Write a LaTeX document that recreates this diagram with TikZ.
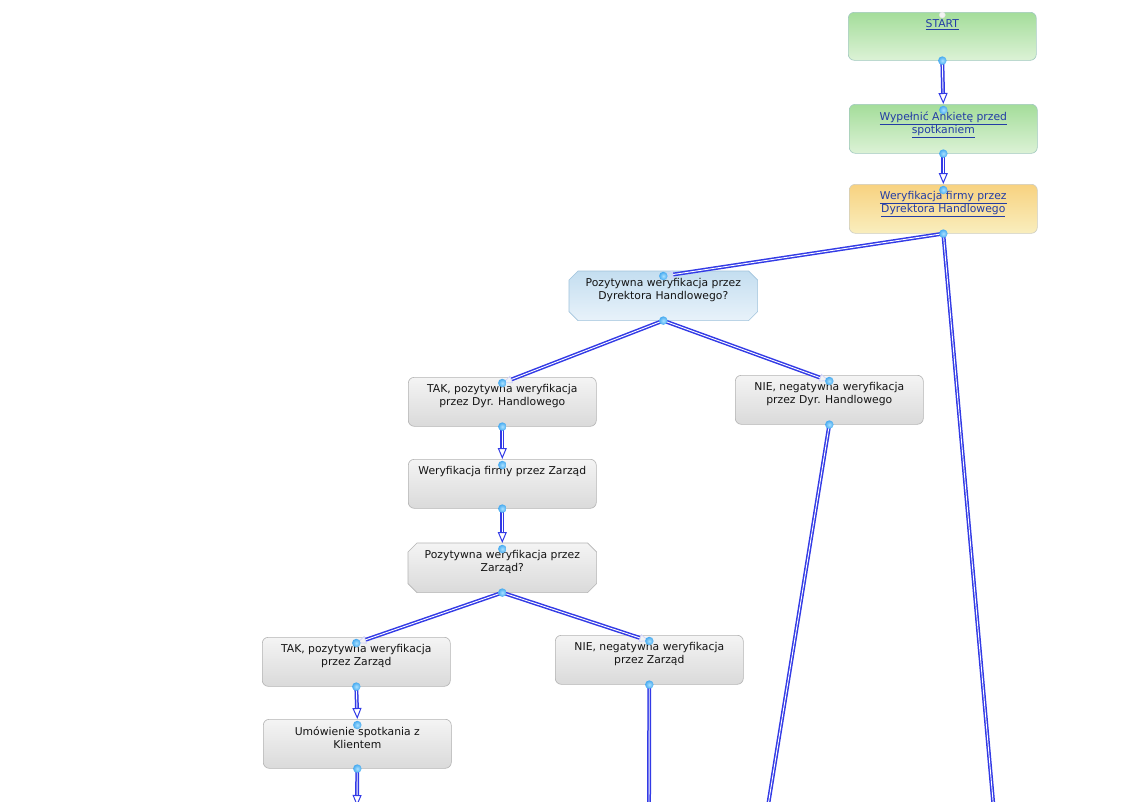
\documentclass[tikz,border=0pt]{standalone}
\usepackage{fontspec}
\setmainfont{DejaVu Sans}
\usetikzlibrary{arrows.meta}
\definecolor{lnk}{RGB}{50,58,230}
\definecolor{linktxt}{RGB}{35,60,165}
\definecolor{txt}{RGB}{20,20,20}
\definecolor{grtop}{RGB}{164,221,154}
\definecolor{grbot}{RGB}{220,242,214}
\definecolor{grbd}{RGB}{160,200,190}
\definecolor{ortop}{RGB}{248,210,128}
\definecolor{orbot}{RGB}{249,238,190}
\definecolor{orbd}{RGB}{205,205,195}
\definecolor{bltop}{RGB}{196,222,240}
\definecolor{blbot}{RGB}{232,242,250}
\definecolor{blbd}{RGB}{160,195,220}
\definecolor{gytop}{RGB}{244,244,244}
\definecolor{gybot}{RGB}{218,218,218}
\definecolor{gybd}{RGB}{180,180,180}
\definecolor{dotc}{RGB}{70,170,240}
\definecolor{dotl}{RGB}{170,225,255}
\newcommand{\lk}[1]{\underline{#1}}
\newcommand{\octa}[2]{%
  \path[#2] ([xshift=9pt]#1.north west) -- ([xshift=-9pt]#1.north east)
    -- ([yshift=-9pt]#1.north east) -- ([yshift=9pt]#1.south east)
    -- ([xshift=-9pt]#1.south east) -- ([xshift=9pt]#1.south west)
    -- ([yshift=9pt]#1.south west) -- ([yshift=-9pt]#1.north west) -- cycle;}
\tikzset{
  boxbase/.style={minimum width=188pt, minimum height=49pt, inner sep=0pt, anchor=north west, line width=0.6pt},
  greenbox/.style={boxbase, rounded corners=6pt, draw=grbd, top color=grtop, bottom color=grbot},
  orangebox/.style={boxbase, rounded corners=6pt, draw=orbd, top color=ortop, bottom color=orbot},
  graybox/.style={boxbase, rounded corners=6pt, draw=gybd, top color=gytop, bottom color=gybot},
  decbox/.style={boxbase},
  bluefill/.style={draw=blbd, line width=0.6pt, top color=bltop, bottom color=blbot},
  grayfill/.style={draw=gybd, line width=0.6pt, top color=gytop, bottom color=gybot},
  boxtext/.style={anchor=north, align=center, inner sep=0pt, font=\fontsize{10.8}{13}\selectfont, text=txt},
  linktext/.style={boxtext, text=linktxt},
  conn/.style={draw=lnk, line width=1.5pt, double=white, double distance=0.9pt},
  tipblue/.style={-{Triangle[open, length=11pt, width=9pt, line width=1pt]}},
  tippale/.style={-{Triangle[open, length=10pt, width=8pt, line width=0.8pt, color=lnk!22]}},
  dot/.style={circle, minimum size=8.5pt, inner sep=0pt, inner color=dotl, outer color=dotc},
}
\begin{document}
\begin{tikzpicture}[x=1pt, y=-1pt]
\useasboundingbox (0,0) rectangle (1143,801);
\fill[white] (0,0) rectangle (1143,801);

% boxes
\node[greenbox, minimum height=48pt] (start) at (848,12) {};
\node[greenbox] (wyp) at (849,104) {};
\node[orangebox] (wer) at (849,184) {};
\node[decbox] (pdh) at (569,271) {};
\octa{pdh}{bluefill}
\node[graybox] (takd) at (408,377) {};
\node[graybox] (nied) at (735,375) {};
\node[graybox] (wz) at (408,459) {};
\node[decbox] (pz) at (408,543) {};
\octa{pz}{grayfill}
\node[graybox] (takz) at (262,637) {};
\node[graybox] (niez) at (555,635) {};
\node[graybox] (umow) at (263,719) {};

% texts
\node[linktext] (t1) at ([yshift=-7.5pt]start.north) {\lk{START}};
\node[linktext] (t2) at ([yshift=-7.5pt]wyp.north) {\lk{Wypełnić Ankietę przed}\\\lk{spotkaniem}};
\node[linktext] (t3) at ([yshift=-7.5pt]wer.north) {\lk{Weryfikacja firmy przez}\\\lk{Dyrektora Handlowego}};
\node[boxtext] (t4) at ([yshift=-7.5pt]pdh.north) {Pozytywna weryfikacja przez\\Dyrektora Handlowego?};
\node[boxtext] (t5) at ([yshift=-7.5pt]takd.north) {TAK, pozytywna weryfikacja\\przez Dyr. Handlowego};
\node[boxtext] (t6) at ([yshift=-7.5pt]nied.north) {NIE, negatywna weryfikacja\\przez Dyr. Handlowego};
\node[boxtext] (t7) at ([yshift=-7.5pt]wz.north) {Weryfikacja firmy przez Zarząd};
\node[boxtext] (t8) at ([yshift=-7.5pt]pz.north) {Pozytywna weryfikacja przez\\Zarząd?};
\node[boxtext] (t9) at ([yshift=-7.5pt]takz.north) {TAK, pozytywna weryfikacja\\przez Zarząd};
\node[boxtext] (t10) at ([yshift=-7.5pt]niez.north) {NIE, negatywna weryfikacja\\przez Zarząd};
\node[boxtext] (t11) at ([yshift=-7.5pt]umow.north) {Umówienie spotkania z\\Klientem};

% off-page ends
\coordinate (endA) at (994,812);
\coordinate (endB) at (767,812);
\coordinate (endC) at (649,812);
\coordinate (endD) at (357,806);

% target points (dots just below the top edge)
\coordinate (pdhIn) at ([yshift=-5pt]pdh.north);
\coordinate (takdIn) at ([yshift=-6pt]takd.north);
\coordinate (niedIn) at ([yshift=-6pt]nied.north);
\coordinate (takzIn) at ([yshift=-6pt]takz.north);
\coordinate (niezIn) at ([yshift=-6pt]niez.north);

% connectors
\draw[conn, tipblue] (start.south) -- (wyp.north);
\draw[conn, tipblue] (wyp.south) -- (wer.north);
\draw[conn, tippale] (wer.south) -- (pdhIn);
\draw[conn] (wer.south) -- (endA);
\draw[conn, tippale] (pdh.south) -- (takdIn);
\draw[conn, tippale] (pdh.south) -- (niedIn);
\draw[conn, tipblue] (takd.south) -- (wz.north);
\draw[conn] (nied.south) -- (endB);
\draw[conn, tipblue] (wz.south) -- (pz.north);
\draw[conn, tippale] (pz.south) -- (takzIn);
\draw[conn, tippale] (pz.south) -- (niezIn);
\draw[conn, tipblue] (takz.south) -- (umow.north);
\draw[conn] (niez.south) -- (endC);
\draw[conn, tipblue] (umow.south) -- (endD);

% connection dots
\node[circle, minimum size=6pt, inner sep=0pt, fill=gray!10, draw=gray!20] (sd) at ([yshift=-3pt]start.north) {};
\foreach \n in {start,wyp,wer,pdh,takd,nied,wz,pz,takz,niez,umow}{
  \node[dot] at (\n.south) {};
}
\foreach \n in {wyp,wer,wz,pz,umow}{
  \node[dot] at ([yshift=-6pt]\n.north) {};
}
\node[dot] at (pdhIn) {};
\node[dot] at (takdIn) {};
\node[dot] at (niedIn) {};
\node[dot] at (takzIn) {};
\node[dot] at (niezIn) {};
\end{tikzpicture}
\end{document}
